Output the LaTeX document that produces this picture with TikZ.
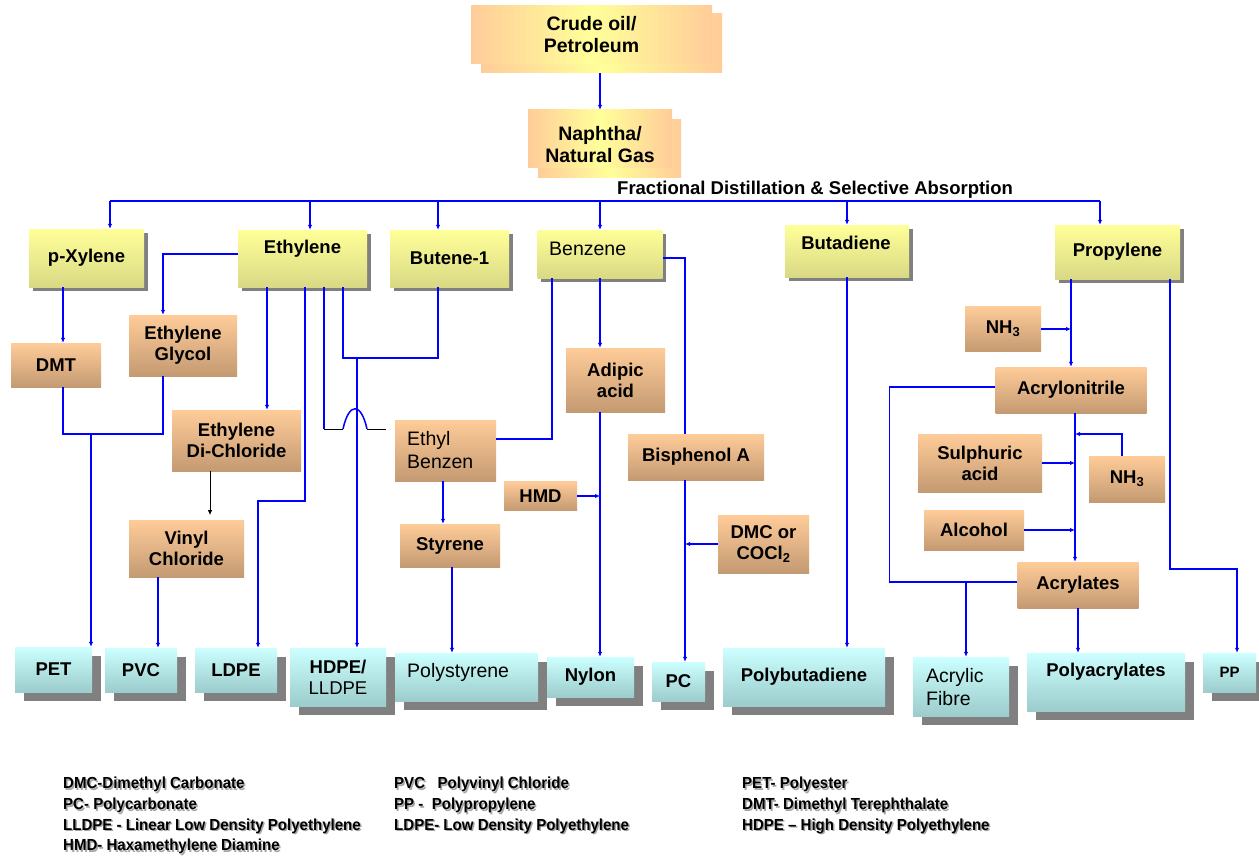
\documentclass[tikz,border=0pt]{standalone}
\usepackage{fontspec}
\setmainfont{Liberation Sans}
\newfontfamily\legendfam[FakeStretch=0.94, Ligatures=TeX]{Liberation Sans}
\usetikzlibrary{arrows.meta,shadows,positioning}

\definecolor{yeltop}{HTML}{FFFF99}
\definecolor{yelbot}{HTML}{D9D985}
\definecolor{orgtop}{HTML}{FFCC99}
\definecolor{orgbot}{HTML}{C49A72}
\definecolor{cyntop}{HTML}{CCFFFF}
\definecolor{cynbot}{HTML}{9CCCCC}
\definecolor{shadowgray}{HTML}{808080}
\definecolor{linkblue}{HTML}{0000FF}

\newcommand{\lbl}{\fontsize{18.5}{21}\selectfont\bfseries}
\newcommand{\nrm}{\fontsize{19.5}{22.5}\selectfont}
\newcommand{\srcfont}{\fontsize{19.5}{22}\selectfont\bfseries}
\newcommand{\ppfont}{\fontsize{15}{17}\selectfont\bfseries}
\newcommand{\legendfont}{\legendfam\fontsize{16}{20.7}\selectfont\bfseries}

\tikzset{
	sz/.style 2 args={minimum width=#1pt, minimum height=#2pt},
	ybox/.style={top color=yeltop, bottom color=yelbot, inner sep=0pt, font=\lbl,
		general shadow={fill=shadowgray, shadow xshift=3.5pt, shadow yshift=-3.5pt}},
	obox/.style={top color=orgtop, bottom color=orgbot, inner sep=0pt, font=\lbl, align=center},
	cbox/.style={top color=cyntop, bottom color=cynbot, inner sep=0pt, font=\lbl, align=center,
		general shadow={fill=shadowgray, shadow xshift=9pt, shadow yshift=-9pt}},
	sbox/.style={left color=orgtop, right color=orgtop, middle color=yeltop, inner sep=0pt},
	txt/.style={inner sep=0pt, font=\lbl, align=center},
	legend/.style={inner sep=0pt, font=\legendfont, align=left, anchor=north west},
	legendshade/.style={legend, text=black!35},
	pipe/.style={draw=linkblue, line width=1.5pt},
	flow/.style={pipe, -{Latex[length=5pt,width=4.5pt]}},
}

\begin{document}
\begin{tikzpicture}[x=1pt, y=-1pt]
	\useasboundingbox (0,0) rectangle (1259,856);
	\fill[white] (0,0) rectangle (1259,856);

	% feedstock
	\node[sbox, sz={241}{59}] (crudeb) at (601.5,43.5) {};
	\node[sbox, sz={241}{58}, font=\srcfont, align=center] (crude) at (591.5,35) {Crude oil/\\Petroleum};
	\node[sbox, sz={143}{58}] (naphb) at (609.5,149) {};
	\node[sbox, sz={144}{58}] (naph) at (600,139) {};
	\node[txt, font=\srcfont] (naph-t) at (600,145) {Naphtha/\\Natural Gas};
	\node[txt, anchor=west] (frac) at (617,190) {Fractional Distillation \& Selective Absorption};
	\coordinate (busL) at (110,201);
	\coordinate (busR) at (1100,201);

	% basic petrochemicals
	\node[ybox, sz={115}{58}] (pxyl) at (86.5,258) {p-Xylene};
	\node[ybox, sz={129}{57}] (eth) at (302.5,258.5) {};
	\node[txt] (eth-t) at (302.5,249) {Ethylene};
	\node[ybox, sz={119}{57}] (but) at (449.5,258.5) {Butene-1};
	\node[ybox, sz={125}{48}] (benz) at (600,254) {};
	\node[txt, font=\nrm, anchor=west] (benz-t) at (549,249) {Benzene};
	\node[ybox, sz={124}{52}] (buta) at (847,251) {};
	\node[txt] (buta-t) at (846,243) {Butadiene};
	\node[ybox, sz={125}{54}] (prop) at (1117.5,252) {Propylene};

	% intermediates
	\node[obox, sz={90}{44}] (dmt) at (56,365) {DMT};
	\node[obox, sz={108}{61}] (eg) at (183,345.5) {Ethylene\\Glycol};
	\node[obox, sz={129}{61}] (edc) at (236.5,440.5) {Ethylene\\Di-Chloride};
	\node[obox, sz={115}{57}] (vc) at (186.5,548.5) {Vinyl\\Chloride};
	\node[obox, sz={101}{61}] (ebz) at (445.5,450.5) {};
	\node[txt, font=\nrm, align=left, anchor=west] (ebz-t) at (407,450) {Ethyl\\Benzen};
	\node[obox, sz={100}{43}] (sty) at (450,545.5) {Styrene};
	\node[obox, sz={99}{64}] (adip) at (615.5,380) {Adipic\\acid};
	\node[obox, sz={73}{29}] (hmd) at (540.5,496) {HMD};
	\node[obox, sz={136}{46}] (bisa) at (696,457) {Bisphenol A};
	\node[obox, sz={91}{58}] (dmc) at (763.5,544) {DMC or\\COCl\textsubscript{2}};
	\node[obox, sz={76}{45}] (nh3a) at (1003,329) {NH\textsubscript{3}};
	\node[obox, sz={151}{46}] (acn) at (1071,390) {Acrylonitrile};
	\node[obox, sz={124}{58}] (sulf) at (980,463) {Sulphuric\\acid};
	\node[obox, sz={76}{46}] (nh3b) at (1127,479) {NH\textsubscript{3}};
	\node[obox, sz={100}{40}] (alc) at (974,530) {Alcohol};
	\node[obox, sz={121}{46}] (acr) at (1078,585) {Acrylates};

	% polymers
	\node[cbox, sz={77}{45}] (pet) at (53.5,669.5) {PET};
	\node[cbox, sz={72}{44}] (pvc) at (141,670) {PVC};
	\node[cbox, sz={82}{44}] (ldpe) at (236,670) {LDPE};
	\node[cbox, sz={96}{58}] (hdpe) at (338,677) {HDPE/\\\mdseries LLDPE};
	\node[cbox, sz={143}{48}] (pst) at (466.5,677) {};
	\node[txt, font=\nrm, anchor=west] (pst-t) at (407,672) {Polystyrene};
	\node[cbox, sz={87}{40}] (nyl) at (590.5,677) {Nylon};
	\node[cbox, sz={53}{39}] (pc) at (678.5,681.5) {PC};
	\node[cbox, sz={162}{58}] (pbd) at (804,677) {Polybutadiene};
	\node[cbox, sz={96}{59}] (acf) at (961,686.5) {};
	\node[txt, font=\nrm, align=left, anchor=west] (acf-t) at (926,687) {Acrylic\\Fibre};
	\node[cbox, sz={158}{58}] (pac) at (1106,682) {};
	\node[txt] (pac-t) at (1106,672) {Polyacrylates};
	\node[cbox, sz={53}{39}, font=\ppfont] (pp) at (1229.5,672.5) {PP};

	% distillation header
	\draw[flow] (crudeb.south -| naph.north) -- (naph.north);
	\draw[pipe] (busL) -- (busR);
	\foreach \x/\n in {110/pxyl, 310/eth, 438/but, 600/benz, 847/buta, 1100/prop}
		\draw[flow] (\x,201) -- (\x,201 |- \n.north);

	% p-xylene and ethylene routes
	\draw[flow] ([xshift=7pt]dmt.north |- pxyl.south) -- ([xshift=7pt]dmt.north);
	\draw[flow] ([yshift=4.5pt]eth.west) -| ([xshift=-20pt]eg.north);
	\coordinate (petj) at (91,434);
	\draw[pipe] ([xshift=7pt]dmt.south) |- (petj) -| ([xshift=-20pt]eg.south);
	\draw[flow] (petj) -- (petj |- pet.north);
	\draw[flow] ([xshift=30.5pt]edc.north |- eth.south) -- ([xshift=30.5pt]edc.north);
	\draw[black, line width=1pt, -{Latex[length=5pt,width=4.5pt]}] ([xshift=-26.5pt]edc.south) -- ++(0,44);
	\draw[flow] ([xshift=-28.5pt]vc.south) -- ([xshift=-28.5pt]vc.south |- pvc.north);
	\draw[flow] ([xshift=2.5pt]eth.south) -- ++(0,214) -| ([xshift=22pt]ldpe.north);

	% ethylene to ethyl benzene, hopping the HDPE feed
	\coordinate (hop) at (324,429);
	\draw[pipe] ([xshift=21.5pt]eth.south) -- (hop);
	\draw[black, line width=.8pt] (hop) -- ++(19,0) ([xshift=43pt]hop) -- ++(19,0);
	\draw[pipe] ([xshift=19pt]hop) .. controls +(6,-27) and +(-6,-27) .. ([xshift=43pt]hop);
	\coordinate (hdj) at (357,358);
	\draw[pipe] ([xshift=40.5pt]eth.south) |- (hdj) -| ([xshift=-11.5pt]but.south);
	\draw[flow] (hdj) -- (hdj |- hdpe.north);

	% benzene routes
	\draw[pipe] ([xshift=-48pt]benz.south) |- ([yshift=11.5pt]ebz.east);
	\draw[flow] ([xshift=-2.5pt]ebz.south) -- ([xshift=-2.5pt]ebz.south |- sty.north);
	\draw[flow] ([xshift=2pt]sty.south) -- ([xshift=2pt]sty.south |- pst.north);
	\draw[flow] (benz.south) -- (benz.south |- adip.north);
	\draw[flow] (benz.south |- adip.south) -- (benz.south |- nyl.north);
	\draw[flow] (hmd.east) -- (hmd.east -| benz.south);
	\draw[pipe] ([yshift=-4pt]benz.east) -| ([xshift=-11pt]bisa.north);
	\coordinate (pcl) at ([xshift=-11pt]bisa.south);
	\draw[flow] (pcl) -- (pcl |- pc.north);
	\draw[flow] (dmc.west) -- (dmc.west -| pcl);
	\draw[flow] (buta.south) -- (buta.south |- pbd.north);

	% propylene routes
	\draw[flow] (prop.south -| acn.north) -- (acn.north);
	\draw[flow] (nh3a.east) -- (nh3a.east -| acn.north);
	\coordinate (acl) at ([xshift=4pt]acn.south);
	\draw[flow] (acl) -- (acl |- acr.north);
	\draw[flow] ([xshift=-5pt]nh3b.north) |- (acl |- 0,434);
	\draw[flow] (sulf.east) -- (sulf.east -| acl);
	\draw[flow] (alc.east) -- (alc.east -| acl);
	\draw[pipe] ([yshift=3pt]acn.west) -- ++(-106,0) |- ([yshift=3pt]acr.west);
	\coordinate (afj) at (966,582);
	\draw[flow] (afj) -- (afj |- acf.north);
	\draw[flow] (acr.south) -- (acr.south |- pac.north);
	\draw[flow] ([xshift=52.5pt]prop.south) -- ++(0,290) -| ([xshift=7.5pt]pp.north);

	% abbreviations, with their soft shadow
	\node[legendshade] (key1s) at (64.5,778.5) {DMC-Dimethyl Carbonate\\PC- Polycarbonate\\LLDPE - Linear Low Density Polyethylene\\HMD- Haxamethylene Diamine};
	\node[legendshade] (key2s) at (395.5,778.5) {PVC\ \ \ Polyvinyl Chloride\\PP -\ \ Polypropylene\\LDPE- Low Density Polyethylene};
	\node[legendshade] (key3s) at (743.5,778.5) {PET- Polyester\\DMT- Dimethyl Terephthalate\\HDPE \textendash\ High Density Polyethylene};
	\node[legend] (key1) at (63,777) {DMC-Dimethyl Carbonate\\PC- Polycarbonate\\LLDPE - Linear Low Density Polyethylene\\HMD- Haxamethylene Diamine};
	\node[legend] (key2) at (394,777) {PVC\ \ \ Polyvinyl Chloride\\PP -\ \ Polypropylene\\LDPE- Low Density Polyethylene};
	\node[legend] (key3) at (742,777) {PET- Polyester\\DMT- Dimethyl Terephthalate\\HDPE \textendash\ High Density Polyethylene};
\end{tikzpicture}
\end{document}
